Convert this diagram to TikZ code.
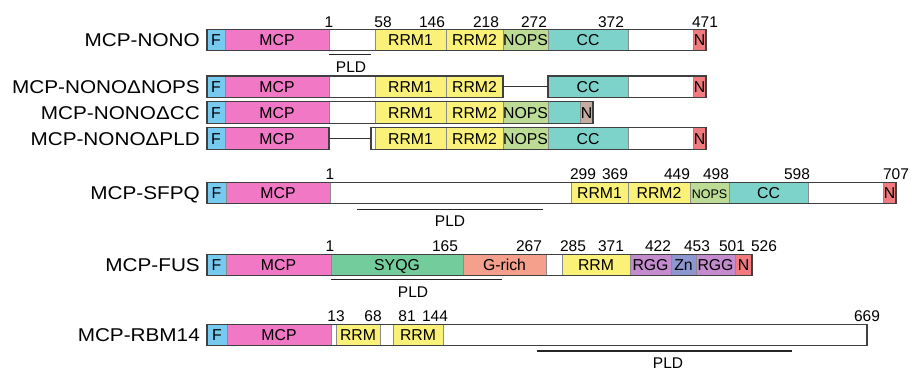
\documentclass[tikz,border=0pt]{standalone}
\usepackage{fontspec}
\setmainfont{Liberation Sans}
\newfontfamily\rowfont[FakeStretch=1.12]{Liberation Sans}
\definecolor{colF}{RGB}{118,202,240}
\definecolor{colMCP}{RGB}{240,120,196}
\definecolor{colRRM}{RGB}{250,242,120}
\definecolor{colNOPS}{RGB}{188,220,150}
\definecolor{colCC}{RGB}{125,210,202}
\definecolor{colN}{RGB}{240,122,126}
\definecolor{colNdel}{RGB}{196,172,160}
\definecolor{colSYQG}{RGB}{115,204,156}
\definecolor{colGrich}{RGB}{244,160,140}
\definecolor{colRGG}{RGB}{196,140,206}
\definecolor{colZn}{RGB}{142,150,208}
% name, from, to, row, colour, text
\newcommand{\dom}[6]{\node[dombox, fill=#5, minimum width={#3-#2}, anchor=west] (#1) at (#2,#4) {#6};}
\begin{document}
\begin{tikzpicture}[x=1pt, y=-1pt,
    dombox/.style={draw=black!45, line width=0.7pt, inner sep=0pt, outer sep=0pt,
      minimum height=21.6pt, text height=11.3pt, text depth=0pt,
      font=\fontsize{15.8}{18}\selectfont},
    numlab/.style={inner sep=0pt, font=\fontsize{15.5}{18}\selectfont},
    rowlabel/.style={inner sep=0pt, anchor=base east, font=\rowfont\fontsize{18.5}{22}\selectfont},
    barline/.style={draw=black!75, line width=1.2pt},
    gapline/.style={draw=black!80, line width=1.3pt},
    pldbar/.style={draw=black!85, line width=1.5pt}]
\useasboundingbox (0,0) rectangle (912,370);

% MCP-NONO
\node[rowlabel] (nonoLab) at (200,46.6) {MCP-NONO};
\dom{nonoF}{207}{225}{40}{colF}{F}
\dom{nonoMCP}{225}{329}{40}{colMCP}{MCP}
\dom{nonoW}{329}{375}{40}{white}{}
\dom{nonoRRMa}{375}{446}{40}{colRRM}{RRM1}
\dom{nonoRRMb}{446}{503}{40}{colRRM}{RRM2}
\dom{nonoNOPS}{503}{548}{40}{colNOPS}{NOPS}
\dom{nonoCC}{548}{628}{40}{colCC}{CC}
\dom{nonoWb}{628}{693}{40}{white}{}
\dom{nonoN}{693}{706}{40}{colN}{N}
\draw[barline] (nonoF.north west) rectangle (nonoN.south east);
\foreach \x/\t in {329/1,383/58,432/146,486/218,534/272,611/372,705/471}
  \node[numlab] (nono-\t) at (\x,22) {\t};
\draw[pldbar] (329,54.5) -- (371,54.5);
\node[numlab] (nonoPLD) at (351,67.5) {PLD};

% MCP-NONO dNOPS
\node[rowlabel] (dnLab) at (200,93.4) {MCP-NONOΔNOPS};
\dom{dnF}{207}{225}{86.8}{colF}{F}
\dom{dnMCP}{225}{329}{86.8}{colMCP}{MCP}
\dom{dnW}{329}{375}{86.8}{white}{}
\dom{dnRRMa}{375}{446}{86.8}{colRRM}{RRM1}
\dom{dnRRMb}{446}{503}{86.8}{colRRM}{RRM2}
\dom{dnCC}{548}{628}{86.8}{colCC}{CC}
\dom{dnWb}{628}{693}{86.8}{white}{}
\dom{dnN}{693}{706}{86.8}{colN}{N}
\draw[barline] (dnF.north west) rectangle (dnRRMb.south east);
\draw[barline] (dnCC.north west) rectangle (dnN.south east);
\draw[gapline] (dnRRMb.east) -- (dnCC.west);

% MCP-NONO dCC
\node[rowlabel] (dcLab) at (200,119.1) {MCP-NONOΔCC};
\dom{dcF}{207}{225}{112.5}{colF}{F}
\dom{dcMCP}{225}{329}{112.5}{colMCP}{MCP}
\dom{dcW}{329}{375}{112.5}{white}{}
\dom{dcRRMa}{375}{446}{112.5}{colRRM}{RRM1}
\dom{dcRRMb}{446}{503}{112.5}{colRRM}{RRM2}
\dom{dcNOPS}{503}{548}{112.5}{colNOPS}{NOPS}
\dom{dcCC}{548}{580}{112.5}{colCC}{}
\dom{dcN}{580}{593}{112.5}{colNdel}{N}
\draw[barline] (dcF.north west) rectangle (dcN.south east);

% MCP-NONO dPLD
\node[rowlabel] (dpLab) at (200,145.1) {MCP-NONOΔPLD};
\dom{dpF}{207}{225}{138.5}{colF}{F}
\dom{dpMCP}{225}{329}{138.5}{colMCP}{MCP}
\dom{dpW}{371}{375}{138.5}{white}{}
\dom{dpRRMa}{375}{446}{138.5}{colRRM}{RRM1}
\dom{dpRRMb}{446}{503}{138.5}{colRRM}{RRM2}
\dom{dpNOPS}{503}{548}{138.5}{colNOPS}{NOPS}
\dom{dpCC}{548}{628}{138.5}{colCC}{CC}
\dom{dpWb}{628}{693}{138.5}{white}{}
\dom{dpN}{693}{706}{138.5}{colN}{N}
\draw[barline] (dpF.north west) rectangle (dpMCP.south east);
\draw[barline] (dpW.north west) rectangle (dpN.south east);
\draw[gapline] (dpMCP.east) -- (dpW.west);

% MCP-SFPQ
\node[rowlabel] (sfLab) at (200,199.6) {MCP-SFPQ};
\dom{sfF}{207}{226}{193}{colF}{F}
\dom{sfMCP}{226}{330}{193}{colMCP}{MCP}
\dom{sfW}{330}{571}{193}{white}{}
\dom{sfRRMa}{571}{628}{193}{colRRM}{RRM1}
\dom{sfRRMb}{628}{690}{193}{colRRM}{RRM2}
\dom{sfNOPS}{690}{729}{193}{colNOPS}{\fontsize{12.5}{15}\selectfont NOPS}
\dom{sfCC}{729}{808}{193}{colCC}{CC}
\dom{sfWb}{808}{883}{193}{white}{}
\dom{sfN}{883}{896}{193}{colN}{N}
\draw[barline] (sfF.north west) rectangle (sfN.south east);
\foreach \x/\t in {330/1,583/299,615/369,677/449,716/498,797/598,896/707}
  \node[numlab] (sf-\t) at (\x,174) {\t};
\draw[pldbar] (357,209.3) -- (543,209.3);
\node[numlab] (sfPLD) at (450,221) {PLD};

% MCP-FUS
\node[rowlabel] (fuLab) at (200,271.6) {MCP-FUS};
\dom{fuF}{207}{226}{265}{colF}{F}
\dom{fuMCP}{226}{331}{265}{colMCP}{MCP}
\dom{fuSYQG}{331}{463}{265}{colSYQG}{SYQG}
\dom{fuGrich}{463}{546}{265}{colGrich}{G-rich}
\dom{fuW}{546}{562}{265}{white}{}
\dom{fuRRM}{562}{630}{265}{colRRM}{RRM}
\dom{fuRGGa}{630}{671}{265}{colRGG}{RGG}
\dom{fuZn}{671}{696}{265}{colZn}{Zn}
\dom{fuRGGb}{696}{735}{265}{colRGG}{RGG}
\dom{fuN}{735}{752}{265}{colN}{N}
\draw[barline] (fuF.north west) rectangle (fuN.south east);
\foreach \x/\t in {330/1,445/165,529/267,573/285,611/371,658/422,697/453,732/501,764/526}
  \node[numlab] (fu-\t) at (\x,246) {\t};
\draw[pldbar] (331,279.3) -- (502,279.3);
\node[numlab] (fuPLD) at (413,292) {PLD};

% MCP-RBM14
\node[rowlabel] (rbLab) at (200,341.6) {MCP-RBM14};
\dom{rbF}{207}{227}{335}{colF}{F}
\dom{rbMCP}{227}{331}{335}{colMCP}{MCP}
\dom{rbW}{331}{336}{335}{white}{}
\dom{rbRRMa}{336}{380}{335}{colRRM}{RRM}
\dom{rbWb}{380}{393}{335}{white}{}
\dom{rbRRMb}{393}{443}{335}{colRRM}{RRM}
\dom{rbWc}{443}{867}{335}{white}{}
\draw[barline] (rbF.north west) rectangle (rbWc.south east);
\foreach \x/\t in {336/13,373/68,407/81,435/144,867/669}
  \node[numlab] (rb-\t) at (\x,316) {\t};
\draw[pldbar] (537,351) -- (792,351);
\node[numlab] (rbPLD) at (668,363) {PLD};
\end{tikzpicture}
\end{document}
